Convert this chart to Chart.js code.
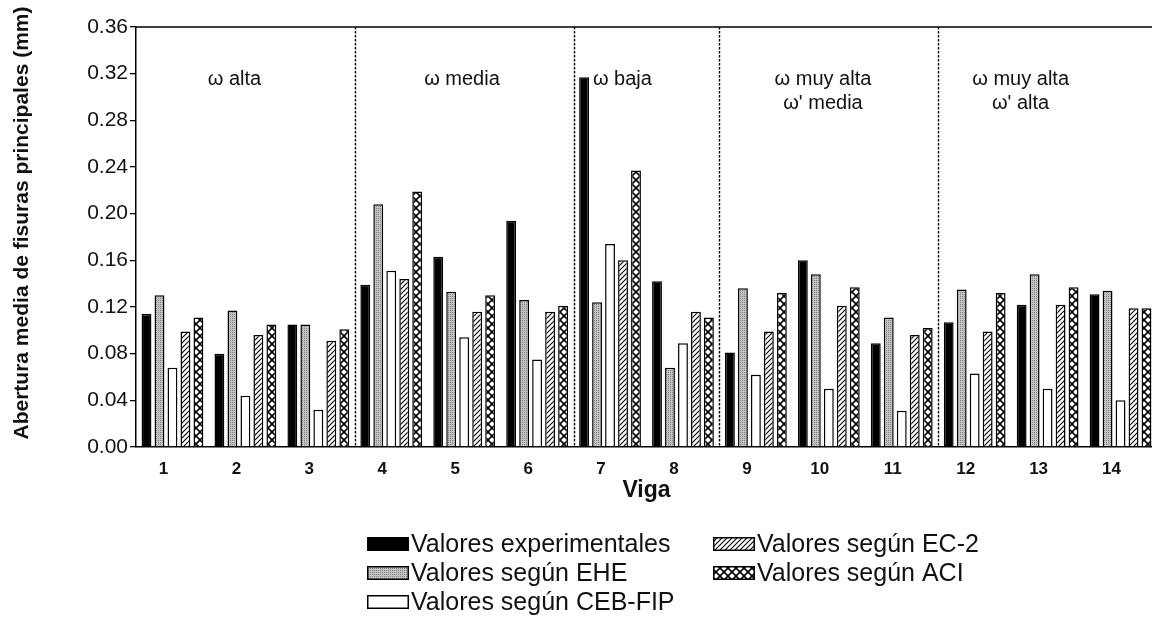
<!DOCTYPE html>
<html>
<head>
<meta charset="utf-8">
<title>Abertura media de fisuras</title>
<script src="https://cdn.jsdelivr.net/npm/chart.js@4.4.1/dist/chart.umd.min.js"></script>
<style>
    html, body { margin: 0; padding: 0; background: #fff; overflow: hidden; }
    #wrap { width: 1157px; height: 627px; }
</style>
</head>
<body>
<div id="wrap"><canvas id="crackChart" width="1157" height="627"></canvas></div>
<script>
// Beams (vigas) and crack widths in mm for each method
const vigas = ['1', '2', '3', '4', '5', '6', '7', '8', '9', '10', '11', '12', '13', '14'];
const experimentales = [0.114, 0.080, 0.105, 0.139, 0.163, 0.194, 0.317, 0.142, 0.081, 0.160, 0.089, 0.107, 0.122, 0.131];
const segunEHE = [0.130, 0.117, 0.105, 0.208, 0.133, 0.126, 0.124, 0.068, 0.136, 0.148, 0.111, 0.135, 0.148, 0.134];
const segunCEBFIP = [0.068, 0.044, 0.032, 0.151, 0.094, 0.075, 0.174, 0.089, 0.062, 0.050, 0.031, 0.063, 0.050, 0.040];
const segunEC2 = [0.099, 0.096, 0.091, 0.144, 0.116, 0.116, 0.160, 0.116, 0.099, 0.121, 0.096, 0.099, 0.122, 0.119];
const segunACI = [0.111, 0.105, 0.101, 0.219, 0.130, 0.121, 0.237, 0.111, 0.132, 0.137, 0.102, 0.132, 0.137, 0.119];

const seriesNames = ['Valores experimentales', 'Valores según EHE', 'Valores según CEB-FIP', 'Valores según EC-2', 'Valores según ACI'];
const yTitle = 'Abertura media de fisuras principales (mm)';

// Groups of beams: a dashed separator goes after these beam counts
const zoneBreaks = [3, 6, 8, 11];
const zoneLabels = [['ω alta'], ['ω media'], ['ω baja'], ['ω muy alta', 'ω\' media'], ['ω muy alta', 'ω\' alta']];
const zoneLabelAt = [0.85, 3.97, 6.17, 8.92, 11.63]; // category index where each caption is centred

const FONT = '"Liberation Sans", Arial, Helvetica, sans-serif';

// fill patterns
function stipple() {
    const c = document.createElement('canvas');
    c.width = 2; c.height = 2;
    const g = c.getContext('2d');
    g.fillStyle = '#c4c4c4';
    g.fillRect(0, 0, 2, 2);
    g.fillStyle = '#808080';
    g.fillRect(0, 0, 1, 1);
    return g.createPattern(c, 'repeat');
}

function hatch() {
    const s = 5;
    const c = document.createElement('canvas');
    c.width = s; c.height = s;
    const g = c.getContext('2d');
    g.fillStyle = '#fff';
    g.fillRect(0, 0, s, s);
    g.strokeStyle = '#000';
    g.lineWidth = 1.1;
    g.beginPath();
    g.moveTo(0, s); g.lineTo(s, 0);
    g.moveTo(-1, 1); g.lineTo(1, -1);
    g.moveTo(s - 1, s + 1); g.lineTo(s + 1, s - 1);
    g.stroke();
    return g.createPattern(c, 'repeat');
}

function crossHatch() {
    const s = 8;
    const c = document.createElement('canvas');
    c.width = s; c.height = s;
    const g = c.getContext('2d');
    g.fillStyle = '#fff';
    g.fillRect(0, 0, s, s);
    g.strokeStyle = '#000';
    g.lineWidth = 1.6;
    g.beginPath();
    g.moveTo(0, 0); g.lineTo(s, s);
    g.moveTo(0, s); g.lineTo(s, 0);
    g.stroke();
    return g.createPattern(c, 'repeat');
}

const fills = ['#000', stipple(), '#fff', hatch(), crossHatch()];
const values = [experimentales, segunEHE, segunCEBFIP, segunEC2, segunACI];

// dashed group separators, top frame, group captions and the y title
const zonePlugin = {
    id: 'zones',
    afterDatasetsDraw(chart) {
        const { ctx, chartArea: a } = chart;
        const catW = (a.right - a.left) / vigas.length;
        ctx.save();
        ctx.strokeStyle = '#000';
        ctx.lineWidth = 1.4;
        ctx.setLineDash([2.5, 1.5]);
        zoneBreaks.forEach(n => {
            const px = Math.round(a.left + n * catW) + 0.5;
            ctx.beginPath();
            ctx.moveTo(px, a.top);
            ctx.lineTo(px, a.bottom);
            ctx.stroke();
        });
        ctx.setLineDash([]);
        ctx.lineWidth = 1.5;
        ctx.beginPath();
        ctx.moveTo(a.left, a.top);
        ctx.lineTo(a.right, a.top);
        ctx.stroke();

        ctx.fillStyle = '#111';
        ctx.font = '20px ' + FONT;
        ctx.textAlign = 'center';
        ctx.textBaseline = 'middle';
        zoneLabels.forEach((lines, i) => {
            const cx = a.left + (zoneLabelAt[i] + 0.5) * catW;
            lines.forEach((t, j) => ctx.fillText(t, cx, a.top + 52 + j * 24));
        });

        // vertical axis title, sits a little above the plot centre
        ctx.translate(22, (a.top + a.bottom) / 2 - 14);
        ctx.rotate(-Math.PI / 2);
        ctx.font = 'bold 21px ' + FONT;
        ctx.fillText(yTitle, 0, 0);
        ctx.restore();
    }
};

// two-column legend under the axis title
const legendPlugin = {
    id: 'twoColLegend',
    afterDraw(chart) {
        const ctx = chart.ctx;
        ctx.save();
        ctx.font = '25px ' + FONT;
        ctx.textBaseline = 'middle';
        ctx.textAlign = 'left';
        chart.data.datasets.forEach((ds, i) => {
            const col = i < 3 ? 0 : 1;
            const row = i < 3 ? i : i - 3;
            const bx = 367 + col * 346;
            const by = 544 + row * 29;
            ctx.fillStyle = ds.backgroundColor;
            ctx.fillRect(bx, by - 7, 42, 14);
            ctx.strokeStyle = '#000';
            ctx.lineWidth = 1.5;
            ctx.strokeRect(bx + 0.75, by - 6.25, 40.5, 12.5);
            ctx.fillStyle = '#111';
            ctx.fillText(ds.label, bx + 44, by + 1);
        });
        ctx.restore();
    }
};

const ctx = document.getElementById('crackChart').getContext('2d');
const crackChart = new Chart(ctx, {
    type: 'bar',
    data: {
        labels: vigas,
        datasets: seriesNames.map((name, i) => ({
            label: name,
            data: values[i],
            backgroundColor: fills[i],
            borderColor: '#000',
            borderWidth: 1.5,
            categoryPercentage: 0.89,
            barPercentage: 0.76
        }))
    },
    options: {
        responsive: false,
        animation: false,
        layout: { padding: { left: 0, top: 27, right: 0, bottom: 120 } },
        plugins: {
            legend: { display: false },
            tooltip: { enabled: false }
        },
        scales: {
            x: {
                afterFit: s => { s.height = 60; },
                grid: { display: false, drawTicks: false },
                border: { display: true, color: '#000', width: 1.5 },
                ticks: {
                    color: '#111',
                    font: { family: FONT, size: 17, weight: 'bold' },
                    padding: 12,
                    labelOffset: -9,
                    autoSkip: false,
                    maxRotation: 0
                },
                title: {
                    display: true,
                    text: 'Viga',
                    color: '#111',
                    font: { family: FONT, size: 23, weight: 'bold' },
                    padding: { top: 0, bottom: 3 }
                }
            },
            y: {
                min: 0,
                max: 0.36,
                afterFit: s => { s.width = 136; },
                grid: { drawOnChartArea: false, drawTicks: true, tickLength: 6, color: '#000', lineWidth: 1.3 },
                border: { display: true, color: '#000', width: 1.5 },
                ticks: {
                    stepSize: 0.04,
                    color: '#111',
                    padding: 2,
                    font: { family: FONT, size: 21 },
                    callback: v => v.toFixed(2)
                }
            }
        }
    },
    plugins: [zonePlugin, legendPlugin]
});
</script>
</body>
</html>
